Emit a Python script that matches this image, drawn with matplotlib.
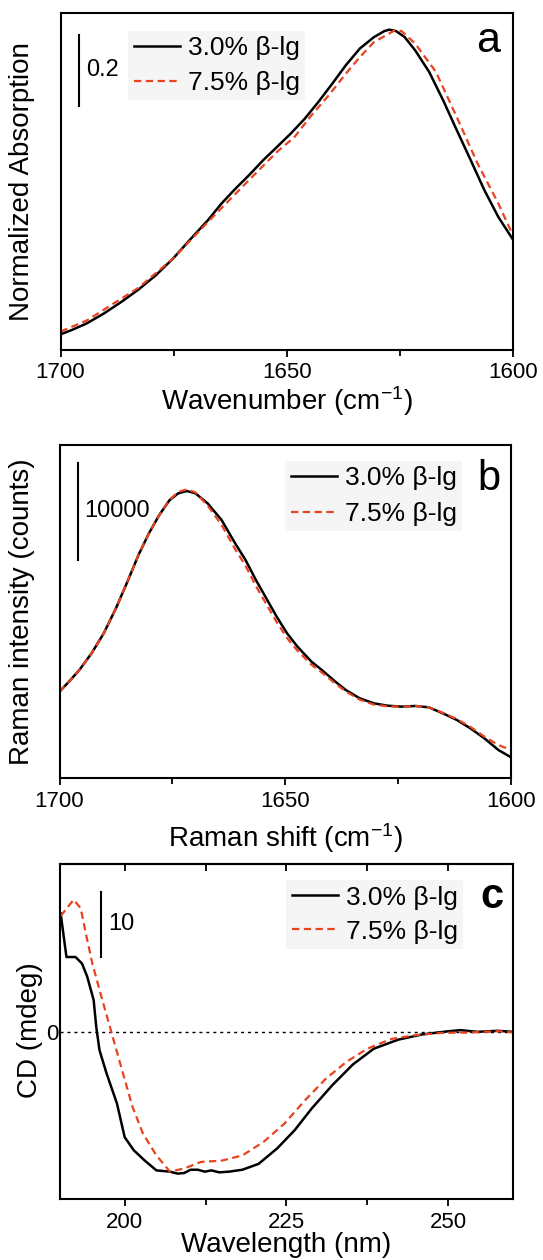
import numpy as np
import matplotlib
matplotlib.use("Agg")
import matplotlib.pyplot as plt
from matplotlib.ticker import MultipleLocator, FixedLocator

plt.rcParams['font.family'] = ['Liberation Sans', 'DejaVu Sans']
plt.rcParams['mathtext.fontset'] = 'custom'
plt.rcParams['mathtext.rm'] = 'Liberation Sans'
plt.rcParams['mathtext.it'] = 'Liberation Sans:italic'

RED = '#e8431e'
DASH = (3.3, 2.0)
LABELS = ['3.0% \u03b2-lg', '7.5% \u03b2-lg']

# ---- panel a : FTIR amide I ----
ftir_wn_30 = [1700.0, 1697.2, 1694.2, 1690.4, 1686.5, 1682.7, 1678.9, 1675.1, 1671.3,
              1667.4, 1664.4, 1661.3, 1658.3, 1655.2, 1652.1, 1649.1, 1646.0, 1643.0,
              1639.9, 1636.9, 1633.8, 1630.7, 1628.4, 1627.3, 1625.8, 1623.9, 1621.6,
              1618.5, 1615.4, 1612.4, 1609.3, 1606.3, 1603.2, 1600.0]
ftir_abs_30 = [0.144, 0.158, 0.175, 0.203, 0.236, 0.271, 0.311, 0.358, 0.412,
               0.466, 0.513, 0.555, 0.593, 0.635, 0.673, 0.710, 0.752, 0.799,
               0.851, 0.903, 0.950, 0.982, 0.999, 1.003, 0.999, 0.982, 0.945,
               0.884, 0.804, 0.720, 0.635, 0.551, 0.475, 0.412]
ftir_wn_75 = [1700.0, 1694.2, 1682.7, 1675.1, 1667.4, 1659.8, 1656.0, 1652.1, 1648.3,
              1644.5, 1640.7, 1636.9, 1633.8, 1630.7, 1626.1, 1624.6, 1621.6, 1617.0,
              1612.4, 1607.8, 1603.2, 1600.0]
ftir_abs_75 = [0.152, 0.183, 0.276, 0.358, 0.461, 0.560, 0.609, 0.659, 0.700,
               0.762, 0.818, 0.879, 0.926, 0.968, 1.001, 0.999, 0.964, 0.884,
               0.757, 0.626, 0.513, 0.424]

# ---- panel b : Raman amide I ----
raman_shift = [1700.0, 1697.9, 1695.6, 1692.9, 1690.2, 1687.5, 1684.8, 1682.5, 1680.2,
               1677.9, 1675.6, 1673.7, 1671.8, 1669.9, 1667.2, 1664.1, 1661.1, 1658.8,
               1656.5, 1654.2, 1651.9, 1649.6, 1647.3, 1644.2, 1641.9, 1638.9, 1636.6,
               1633.5, 1630.4, 1627.4, 1624.3, 1621.2, 1618.2, 1615.1, 1612.0, 1609.0,
               1605.9, 1602.8, 1600.0]
raman_30 = [28926, 29956, 31157, 32874, 34934, 37508, 40426, 43001, 45233,
            47121, 48666, 49352, 49592, 49352, 48322, 46606, 44203, 42486,
            40426, 38538, 36650, 34934, 33560, 32016, 31157, 29956, 29097,
            28239, 27724, 27484, 27381, 27450, 27312, 26694, 26008, 25150,
            24120, 22918, 22163]
raman_75 = [28926, 29956, 31157, 32874, 34934, 37508, 40426, 43001, 45233,
            47121, 48700, 49500, 49764, 49450, 48100, 46100, 43600, 41900,
            39800, 37950, 36100, 34450, 33150, 31700, 30900, 29750, 28950,
            28100, 27600, 27420, 27381, 27450, 27312, 26750, 26100, 25300,
            24292, 23433, 22918]

# ---- panel c : far-UV CD ----
cd_wl_30 = [190.1, 191.0, 192.4, 193.4, 194.2, 195.2, 195.6, 196.1, 197.2, 198.8,
            200.0, 201.4, 203.0, 204.9, 207.0, 208.2, 209.2, 210.2, 211.3, 212.4,
            213.4, 214.6, 216.1, 218.2, 220.7, 223.6, 226.3, 228.9, 232.1, 235.3,
            238.5, 242.3, 246.0, 249.7, 251.9, 254.5, 257.7, 260.0]
cd_30 = [18.3, 11.6, 11.6, 10.6, 8.6, 5.0, 0.9, -2.7, -6.3, -10.9,
         -16.1, -18.1, -19.6, -21.2, -21.4, -21.7, -21.6, -21.1, -21.1, -21.4,
         -21.2, -21.5, -21.4, -21.1, -20.2, -17.8, -15.0, -11.7, -8.1, -4.9,
         -2.5, -1.1, -0.3, 0.15, 0.36, 0.1, 0.26, 0.1]
cd_wl_75 = [190.1, 192.1, 193.2, 194.0, 195.0, 196.4, 198.0, 199.6, 201.2, 202.8,
            204.9, 207.0, 209.2, 211.8, 215.0, 218.2, 221.5, 224.7, 227.9, 231.1,
            234.3, 237.5, 241.2, 245.0, 249.2, 253.5, 257.7, 260.0]
cd_75 = [17.9, 20.4, 19.1, 15.2, 10.6, 5.5, -0.15, -5.8, -11.4, -15.5,
         -18.9, -21.4, -20.9, -19.9, -19.7, -18.9, -16.8, -14.0, -10.4, -7.1,
         -4.5, -2.5, -1.0, -0.4, -0.05, 0.0, 0.2, 0.0]

fig = plt.figure(figsize=(5.43, 12.6), dpi=100)
W, H = 543.0, 1260.0


def make_axes(left, top, right, bottom):
    return fig.add_axes([left / W, 1 - bottom / H, (right - left) / W, (bottom - top) / H])


def style(ax):
    for s in ax.spines.values():
        s.set_linewidth(1.5)
    ax.tick_params(axis='x', which='both', direction='out', width=1.3, labelsize=16, pad=4)
    ax.tick_params(axis='x', which='major', length=5)
    ax.tick_params(axis='x', which='minor', length=4)
    ax.tick_params(axis='y', which='both', left=False, labelleft=False)


def add_legend(ax, handles, x, y, spacing):
    leg = ax.legend(handles, LABELS, loc='upper left', bbox_to_anchor=(x, y), fontsize=19,
                    handlelength=1.75, handletextpad=0.3, labelspacing=spacing,
                    borderpad=0.2, borderaxespad=0, frameon=True, fancybox=False)
    leg.get_frame().set_facecolor('#f5f5f5')
    leg.get_frame().set_edgecolor('none')
    leg.get_frame().set_alpha(1)


# panel a
ax1 = make_axes(60.5, 13, 512.8, 350)
l1, = ax1.plot(ftir_wn_30, ftir_abs_30, color='black', lw=1.8)
l2, = ax1.plot(ftir_wn_75, ftir_abs_75, color=RED, lw=1.6, dashes=DASH)
ax1.set_xlim(1700, 1600)
ax1.set_ylim(0.1, 1.05)
ax1.xaxis.set_major_locator(MultipleLocator(50))
ax1.xaxis.set_minor_locator(MultipleLocator(25))
style(ax1)
ax1.set_xlabel('Wavenumber (cm$^{-1}$)', fontsize=20)
ax1.xaxis.set_label_coords(0.5, -0.1)
ax1.set_ylabel('Normalized Absorption', fontsize=20)
ax1.yaxis.set_label_coords(-0.057, 0.5)
ax1.plot([1695.8, 1695.8], [0.788, 0.988], color='black', lw=1.5)
ax1.text(1694.3, 0.888, '0.2', fontsize=17, va='center', ha='left')
add_legend(ax1, [l1, l2], 0.150, 0.948, 0.42)
ax1.text(0.92, 0.884, 'a', transform=ax1.transAxes, fontsize=31, ha='left', va='baseline')

# panel b
ax2 = make_axes(59.5, 445, 511, 778.3)
l1, = ax2.plot(raman_shift, raman_30, color='black', lw=1.8)
l2, = ax2.plot(raman_shift, raman_75, color=RED, lw=1.6, dashes=DASH)
ax2.set_xlim(1700, 1600)
ax2.set_ylim(20000, 54330)
ax2.xaxis.set_major_locator(MultipleLocator(50))
ax2.xaxis.set_minor_locator(MultipleLocator(25))
style(ax2)
ax2.set_xlabel('Raman shift (cm$^{-1}$)', fontsize=20)
ax2.xaxis.set_label_coords(0.5, -0.128)
ax2.set_ylabel('Raman intensity (counts)', fontsize=20)
ax2.yaxis.set_label_coords(-0.055, 0.5)
ax2.plot([1695.8, 1695.8], [42500, 52500], color='black', lw=1.5)
ax2.text(1694.6, 47500, '10000', fontsize=17, va='center', ha='left')
add_legend(ax2, [l1, l2], 0.50, 0.953, 0.45)
ax2.text(0.925, 0.865, 'b', transform=ax2.transAxes, fontsize=30, ha='left', va='baseline')

# panel c
ax3 = make_axes(60, 864, 512.8, 1199)
ax3.axhline(0, color='black', lw=1.0, dashes=(2.2, 2.8))
l1, = ax3.plot(cd_wl_30, cd_30, color='black', lw=1.8)
l2, = ax3.plot(cd_wl_75, cd_75, color=RED, lw=1.6, dashes=DASH)
ax3.set_xlim(190, 260)
ax3.set_ylim(-25.6, 25.9)
ax3.xaxis.set_major_locator(FixedLocator([200, 225, 250]))
ax3.xaxis.set_minor_locator(FixedLocator([212.5, 237.5]))
style(ax3)
top = ax3.secondary_xaxis('top')
top.set_xticks([200, 225, 250])
top.set_xticks([212.5, 237.5], minor=True)
top.tick_params(axis='x', which='both', direction='in', length=5, width=1.3, labeltop=False)
top.spines['top'].set_linewidth(1.5)
ax3.tick_params(axis='y', which='both', left=True, labelleft=True, length=0, pad=1, labelsize=16)
ax3.set_yticks([0])
ax3.set_xlabel('Wavelength (nm)', fontsize=20)
ax3.xaxis.set_label_coords(0.5, -0.098)
ax3.set_ylabel('CD (mdeg)', fontsize=20)
ax3.yaxis.set_label_coords(-0.037, 0.505)
ax3.plot([196.35, 196.35], [11.6, 21.6], color='black', lw=1.5)
ax3.text(197.4, 16.6, '10', fontsize=17, va='center', ha='left')
add_legend(ax3, [l1, l2], 0.50, 0.951, 0.38)
ax3.text(0.928, 0.869, 'c', transform=ax3.transAxes, fontsize=30, fontweight='bold',
         ha='left', va='baseline')

fig.savefig('out.png', dpi=100, facecolor='white')
